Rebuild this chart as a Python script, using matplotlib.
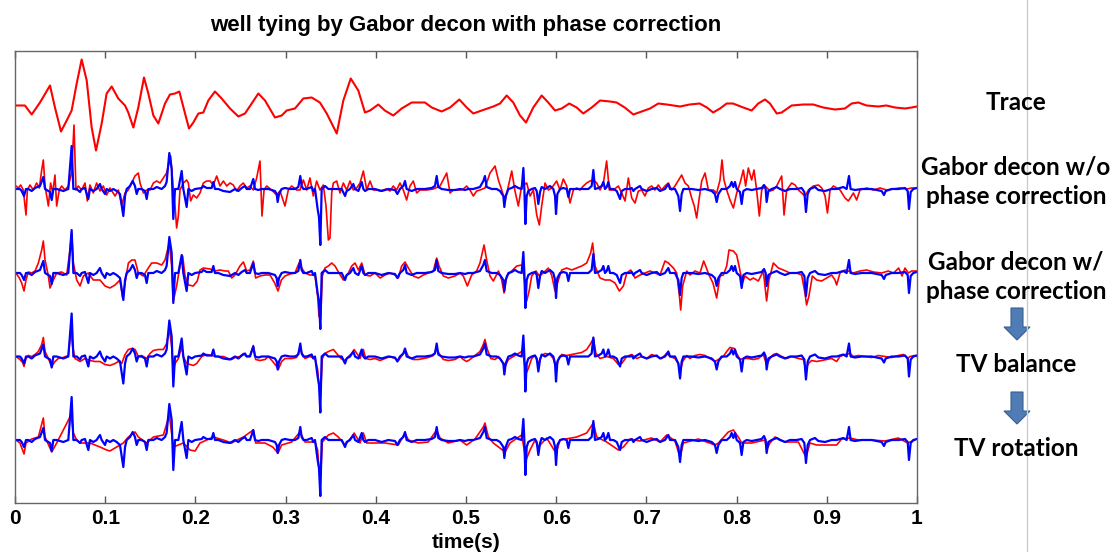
import numpy as np
import matplotlib
matplotlib.use("Agg")
from matplotlib import pyplot as plt
from matplotlib.patches import Polygon
from matplotlib.lines import Line2D

# ---- data: (time in s, amplitude) ----
trace = [(0.000, 0), (0.011, 0), (0.0185, -9), (0.0277, 3), (0.0388, 20), (0.0443, -2), (0.051, -26),
         (0.0573, -15), (0.0628, -5), (0.0684, 22), (0.0739, 46), (0.0795, 25), (0.085, -22), (0.0898, -45),
         (0.0961, -18), (0.1016, 12), (0.1072, 19), (0.1145, 7), (0.122, 0), (0.1256, -7), (0.1312, -22),
         (0.1367, -2), (0.143, 28), (0.1478, 12), (0.1534, -10), (0.1589, -18), (0.1663, 2), (0.1718, 11),
         (0.1774, 12), (0.1822, 14), (0.1885, -8), (0.1929, -23), (0.1977, -17), (0.2033, -8), (0.2088, -7),
         (0.2143, 5), (0.2217, 14), (0.2291, 7), (0.2384, -3), (0.2476, -11), (0.255, -8), (0.2624, 2),
         (0.2698, 12), (0.2772, 5), (0.2882, -12), (0.2957, -10), (0.3012, -5), (0.3104, -3), (0.3196, 7),
         (0.3289, 8), (0.338, 3), (0.3456, -8), (0.3567, -28), (0.364, 5), (0.3722, 27), (0.3806, 15),
         (0.388, -7), (0.3936, -5), (0.4028, 1), (0.410, -5), (0.4194, -10), (0.4287, -3), (0.4398, 3),
         (0.4545, 3), (0.462, -2), (0.473, -6), (0.4823, -2), (0.4926, 6), (0.5008, -2), (0.5081, -8),
         (0.5174, -5), (0.5303, -1), (0.5377, 2), (0.5451, 10), (0.5524, 3), (0.5599, -10), (0.5665, -17),
         (0.5746, -2), (0.5839, 10), (0.5912, 3), (0.5987, -5), (0.6061, -3), (0.6145, 2), (0.6227, -2),
         (0.63, -8), (0.6394, -2), (0.6486, 5), (0.6596, 4), (0.667, 3), (0.676, -2), (0.6855, -9),
         (0.6948, -6), (0.704, -3), (0.7132, 2), (0.7225, 1), (0.7373, -1), (0.748, 1), (0.759, 2),
         (0.767, -2), (0.774, -7), (0.7816, -3), (0.789, 2), (0.796, 2), (0.8074, -2), (0.8167, -5),
         (0.824, 2), (0.8315, 6), (0.837, 2), (0.8445, -8), (0.85, -7), (0.861, 0), (0.874, 1), (0.885, 1),
         (0.896, -2), (0.909, -4), (0.92, -3), (0.9276, 2), (0.935, 3), (0.944, 0), (0.957, -1), (0.966, 0),
         (0.9756, -2), (0.9867, -3), (0.994, -2), (1.0, -1)]

well_refl = [(0.0011, 0), (0.0055, 0), (0.0074, -2), (0.010, -7), (0.0122, 0), (0.0148, 0), (0.0185, -2),
             (0.0222, 1), (0.0277, 3), (0.0314, 12), (0.0333, 0), (0.0388, -3), (0.0407, -11), (0.0425, 0),
             (0.0462, 0), (0.0536, -2), (0.0591, 0), (0.0628, 43), (0.0647, 0), (0.0684, 0), (0.0721, -3),
             (0.0739, 0), (0.0776, 1), (0.0813, -10), (0.0831, 0), (0.0868, -2), (0.0905, 0), (0.0942, 5),
             (0.0961, 0), (0.0998, -5), (0.1016, 0), (0.1053, -2), (0.109, 0), (0.1127, -2), (0.1164, -5),
             (0.1201, -27), (0.122, -7), (0.1238, 0), (0.1275, 3), (0.1305, 8), (0.133, 3), (0.1349, -5),
             (0.1367, 0), (0.1404, 0), (0.1441, -2), (0.146, -10), (0.1478, 0), (0.1534, 0), (0.1571, 2),
             (0.1626, 0), (0.1663, 3), (0.1681, 7), (0.1711, 36), (0.1737, 20), (0.1755, -30), (0.1774, 0),
             (0.1811, 0), (0.1848, 18), (0.1866, 0), (0.1903, -18), (0.1922, 0), (0.1959, -2), (0.1996, 0),
             (0.207, 1), (0.2088, 3), (0.2125, 1), (0.218, 1), (0.2199, 7), (0.2217, 0), (0.2254, 0),
             (0.231, -2), (0.2384, -3), (0.2439, 0), (0.2476, -2), (0.2513, 1), (0.255, 3), (0.2568, 0),
             (0.2605, 0), (0.2642, 10), (0.2661, 0), (0.2698, -1), (0.2735, 0), (0.2809, 0), (0.2882, -2),
             (0.2901, -5), (0.2912, -13), (0.2927, -5), (0.2956, 0), (0.2993, 1), (0.3049, 0), (0.3104, 0),
             (0.3141, 2), (0.3163, 13), (0.3178, 3), (0.3197, 0), (0.3234, 0), (0.3289, 2), (0.3307, -2),
             (0.3326, 0), (0.3355, -20), (0.337, -28), (0.3385, -56), (0.34, 0), (0.3437, 3), (0.3474, 0),
             (0.3548, 0), (0.3622, 0), (0.3659, -7), (0.3677, -2), (0.3714, 0), (0.3751, 5), (0.377, 0),
             (0.3807, -2), (0.3844, 7), (0.3862, 0), (0.3881, -2), (0.3917, 0), (0.3991, 0), (0.4065, -2),
             (0.4139, 0), (0.4213, -1), (0.4239, -5), (0.4268, 0), (0.4305, 3), (0.4324, 8), (0.4342, 0),
             (0.4398, -2), (0.4453, 0), (0.4545, 0), (0.4619, 1), (0.4656, 3), (0.4675, 13), (0.4693, 2),
             (0.473, 0), (0.4804, -1), (0.4878, -1), (0.4933, 0), (0.4989, -1), (0.5026, 0), (0.5081, 0),
             (0.5155, 2), (0.5192, 8), (0.521, 13), (0.5229, 2), (0.5285, 0), (0.534, 0), (0.5377, -2),
             (0.5414, -7), (0.5425, -18), (0.544, -7), (0.547, 0), (0.5506, 1), (0.5543, 3), (0.558, 1),
             (0.5617, 0), (0.5636, 21), (0.5647, 0), (0.5658, -35), (0.5673, -7), (0.5691, -2), (0.5728, 0),
             (0.5765, 1), (0.5784, -2), (0.5802, -15), (0.5821, -3), (0.5839, 2), (0.5876, 0), (0.5931, 3),
             (0.5968, 0), (0.5987, -7), (0.5998, -25), (0.6013, -5), (0.6043, 0), (0.6079, 1), (0.6116, 0),
             (0.6135, -8), (0.6153, 0), (0.619, 0), (0.6246, 0), (0.6301, 0), (0.6357, 0), (0.6393, 3),
             (0.6412, 19), (0.643, 0), (0.6467, 1), (0.6504, 3), (0.6523, 7), (0.6541, 0), (0.656, 2),
             (0.6578, 7), (0.6597, 0), (0.6634, 0), (0.6671, -2), (0.6708, -10), (0.6726, -2), (0.6763, 0),
             (0.6818, 0), (0.6837, 1), (0.6856, -2), (0.6874, 0), (0.6929, 3), (0.6948, 0), (0.7003, -2),
             (0.7058, 0), (0.7114, 1), (0.7151, -2), (0.7206, 0), (0.7243, 5), (0.7262, 0), (0.7317, 0),
             (0.7354, -7), (0.7373, -22), (0.7391, -5), (0.741, 0), (0.7502, 0), (0.7576, -1), (0.765, 0),
             (0.7724, -2), (0.776, -5), (0.7779, -13), (0.7798, -5), (0.7834, 0), (0.789, 0), (0.7927, 3),
             (0.7945, 7), (0.7964, 2), (0.7982, 7), (0.8001, 0), (0.8038, -3), (0.8056, -15), (0.8075, -2),
             (0.8112, 0), (0.8167, -1), (0.8222, 0), (0.8278, 1), (0.8304, 4), (0.8322, 0), (0.8333, -13),
             (0.8352, -2), (0.8389, 0), (0.8444, 2), (0.8481, 0), (0.8537, -2), (0.8592, 0), (0.8666, 0),
             (0.8721, 1), (0.8751, -3), (0.8769, -23), (0.8788, -5), (0.8814, 0), (0.8869, 2), (0.8906, -1),
             (0.898, -2), (0.9054, 0), (0.9109, 0), (0.9146, 1), (0.9183, 2), (0.922, 0), (0.9246, 13),
             (0.9264, 0), (0.9313, -1), (0.9387, 0), (0.9497, 0), (0.9553, -1), (0.9608, -2), (0.9634, -6),
             (0.9653, -2), (0.9719, 0), (0.9793, 0), (0.9867, 1), (0.9897, -2), (0.9911, -20), (0.993, -3),
             (0.9959, 0), (0.9997, 1)]

gabor_no_phase = [(0.0011, 3), (0.0037, 1), (0.0063, 4), (0.0092, -1), (0.0122, -26), (0.0137, -1),
                  (0.0166, 4), (0.0203, -1), (0.024, 6), (0.027, 1), (0.0296, 19), (0.0314, 29), (0.0333, 3),
                  (0.037, -17), (0.0395, 6), (0.0418, -4), (0.0443, 14), (0.0462, -17), (0.0491, -1),
                  (0.0517, 3), (0.0554, -1), (0.0591, 3), (0.0628, 16), (0.0654, 64), (0.0676, -1),
                  (0.0702, 3), (0.0739, -1), (0.0776, 6), (0.0802, -12), (0.0831, 4), (0.0868, -4),
                  (0.0905, 6), (0.0942, -2), (0.0979, 3), (0.1016, -6), (0.1053, 1), (0.1109, -7),
                  (0.1146, -1), (0.1183, -16), (0.122, -4), (0.1256, -1), (0.1293, 6), (0.133, 13),
                  (0.1367, 16), (0.1386, 6), (0.1423, -4), (0.146, -1), (0.1497, -1), (0.1534, 6),
                  (0.1571, 8), (0.1608, 6), (0.1645, 11), (0.1681, 16), (0.17, 23), (0.1726, 33),
                  (0.1755, -1), (0.1774, -17), (0.1792, -39), (0.1811, -27), (0.1829, -1), (0.1866, 6),
                  (0.1903, 9), (0.1922, 6), (0.1947, -12), (0.1977, -6), (0.2014, -9), (0.2051, -4),
                  (0.2088, 6), (0.2125, 8), (0.2162, 8), (0.2199, 4), (0.2236, 13), (0.2273, 3), (0.231, 8),
                  (0.2347, 3), (0.2384, 6), (0.242, 4), (0.2457, -2), (0.2494, 3), (0.2531, 6), (0.2568, 1),
                  (0.2605, 3), (0.2642, -1), (0.2679, 11), (0.2716, 28), (0.2738, -27), (0.2761, -1),
                  (0.279, 3), (0.2845, -1), (0.2901, -6), (0.2938, -2), (0.2993, -17), (0.303, -1),
                  (0.3067, 3), (0.3123, -1), (0.316, -1), (0.3197, 9), (0.3234, -1), (0.327, 11),
                  (0.3307, -7), (0.3344, 8), (0.3381, -1), (0.3418, 4), (0.3448, -17), (0.3474, -51),
                  (0.3492, -49), (0.3511, -4), (0.3529, 6), (0.3566, 8), (0.3603, -4), (0.364, 6),
                  (0.3677, -1), (0.3714, 8), (0.3751, -1), (0.3788, 1), (0.3825, 6), (0.3862, 18),
                  (0.3899, -1), (0.3936, 8), (0.3973, -1), (0.401, -1), (0.4047, -2), (0.4084, -1),
                  (0.412, 0), (0.4157, -2), (0.4194, 3), (0.4231, -1), (0.4268, 6), (0.4305, -1),
                  (0.4342, -11), (0.4379, 3), (0.4416, 8), (0.4453, -4), (0.449, -1), (0.4564, -1),
                  (0.4638, 0), (0.4712, 3), (0.4786, 16), (0.4823, -4), (0.486, -1), (0.4897, -1),
                  (0.4934, -1), (0.4971, 0), (0.5007, 3), (0.5044, -1), (0.5081, -7), (0.5118, -2),
                  (0.5155, -1), (0.5211, 1), (0.5266, 16), (0.5322, 23), (0.5359, 9), (0.5396, -1),
                  (0.5433, -12), (0.547, 3), (0.5507, 18), (0.5543, -2), (0.558, -17), (0.5617, 3),
                  (0.5673, 6), (0.571, -7), (0.5747, -1), (0.5784, -26), (0.5813, -36), (0.5839, -17),
                  (0.5876, 6), (0.5913, -1), (0.595, 1), (0.6005, 8), (0.6042, -1), (0.6079, 10),
                  (0.6116, 3), (0.6153, -14), (0.619, -1), (0.6227, 1), (0.6264, -1), (0.6301, 3),
                  (0.6338, 6), (0.6375, 8), (0.6412, 9), (0.6449, 6), (0.6486, -1), (0.6523, 6),
                  (0.6559, 28), (0.6589, -1), (0.6634, -1), (0.6689, 3), (0.6726, -4), (0.6763, -12),
                  (0.68, 11), (0.6837, -9), (0.6874, -14), (0.6911, -2), (0.6948, -1), (0.6984, -7),
                  (0.7021, 1), (0.7058, 3), (0.7095, -1), (0.7132, 4), (0.7169, -1), (0.7206, 3),
                  (0.7243, 6), (0.728, -1), (0.7317, 3), (0.7391, 14), (0.7428, 6), (0.7465, 3),
                  (0.7502, -9), (0.7531, -17), (0.7557, -29), (0.7583, -11), (0.7613, 8), (0.765, 16),
                  (0.7687, -1), (0.7742, -1), (0.7779, -4), (0.7816, 9), (0.7838, 29), (0.786, 9),
                  (0.789, -1), (0.7927, -11), (0.7964, -19), (0.8001, -4), (0.8038, 6), (0.8075, 19),
                  (0.81, 3), (0.813, 21), (0.8167, 9), (0.8193, 19), (0.8222, -1), (0.8252, -27),
                  (0.8278, -1), (0.8315, 3), (0.837, -2), (0.8407, -1), (0.8444, 3), (0.85, 13),
                  (0.8526, -26), (0.8555, -1), (0.8611, 6), (0.8648, 4), (0.8685, -1), (0.8722, -4),
                  (0.8759, -7), (0.8796, -1), (0.8851, 3), (0.8907, 4), (0.8944, 1), (0.8981, -7),
                  (0.9007, -24), (0.9036, -1), (0.9073, 3), (0.9147, -1), (0.9202, -9), (0.9239, -12),
                  (0.9295, -4), (0.9331, -11), (0.9368, -1), (0.9442, 1), (0.9516, -1), (0.959, 1),
                  (0.9664, -1), (0.9738, 0), (0.9812, 1), (0.9886, 0), (0.9941, 1), (0.9996, 1)]

gabor_phase = [(0.0011, 0), (0.0048, -5), (0.0074, -10), (0.01, -18), (0.0122, -7), (0.0148, 1), (0.0185, 0),
               (0.0222, 2), (0.0259, 10), (0.0296, 23), (0.0314, 32), (0.0333, 13), (0.037, -3), (0.0388, -15),
               (0.0425, -7), (0.0462, 0), (0.0517, 1), (0.0573, -2), (0.061, 23), (0.0628, 40), (0.0647, 10),
               (0.0684, -7), (0.0721, -13), (0.0758, -3), (0.0813, 0), (0.0868, -7), (0.0942, -7),
               (0.0998, -13), (0.1053, -15), (0.1109, -12), (0.1164, -7), (0.1194, -25), (0.122, -10),
               (0.1257, 10), (0.1294, 13), (0.133, 13), (0.1367, 0), (0.1423, -3), (0.1478, 5), (0.1515, 10),
               (0.1571, 10), (0.1626, 8), (0.1663, 13), (0.1711, 30), (0.1737, 7), (0.1755, -28),
               (0.1792, -13), (0.1829, 7), (0.1859, 17), (0.1885, -3), (0.1922, -12), (0.1977, -13),
               (0.2021, -8), (0.2051, 3), (0.2088, 5), (0.2162, 4), (0.2217, 2), (0.2273, 3), (0.2328, 2),
               (0.2365, 2), (0.2402, -5), (0.2439, -2), (0.2494, 7), (0.2532, 11), (0.2568, 2), (0.2605, 3),
               (0.2642, 12), (0.2668, -5), (0.2716, -3), (0.2772, -2), (0.2827, -2), (0.2879, -10),
               (0.2916, -18), (0.2953, -7), (0.2993, -3), (0.3049, -1), (0.3104, 0), (0.3149, 10),
               (0.3178, 5), (0.3215, 0), (0.327, -2), (0.3326, -2), (0.3355, -23), (0.337, -43),
               (0.3388, -47), (0.3407, -3), (0.3437, 5), (0.3474, 7), (0.3511, 10), (0.3548, 7), (0.3592, 0),
               (0.364, -7), (0.3696, 0), (0.3733, 7), (0.377, 10), (0.3807, 3), (0.3844, 10), (0.3881, -2),
               (0.3936, -3), (0.3991, 0), (0.4047, -5), (0.4102, -2), (0.4157, 0), (0.4213, -2), (0.425, -5),
               (0.4287, 7), (0.4324, 11), (0.4361, 5), (0.4416, -3), (0.4472, -5), (0.4527, -2), (0.4582, 0),
               (0.4638, 2), (0.4675, 15), (0.4701, 7), (0.4749, -3), (0.4804, -5), (0.4878, -3), (0.4933, 0),
               (0.497, -3), (0.5015, -13), (0.5063, -2), (0.5118, 2), (0.5155, 10), (0.52, 28), (0.5229, 13),
               (0.5266, -3), (0.5303, -8), (0.536, 2), (0.5396, -7), (0.5422, -20), (0.5451, -3), (0.5506, 2),
               (0.5562, 7), (0.5617, 8), (0.5643, -3), (0.5673, -28), (0.5702, -17), (0.5728, -3),
               (0.5776, 2), (0.5813, -3), (0.5857, 0), (0.5913, 5), (0.5949, -2), (0.5987, -18),
               (0.6024, -7), (0.6061, 3), (0.6116, 5), (0.6172, 3), (0.6227, 5), (0.6283, 7), (0.6338, 10),
               (0.6382, 20), (0.6404, 30), (0.643, 7), (0.6486, -5), (0.6541, -7), (0.6597, -7),
               (0.6652, -10), (0.67, -18), (0.6745, -13), (0.6782, 0), (0.6826, 3), (0.6874, -5),
               (0.6929, -2), (0.6985, 0), (0.704, 2), (0.7096, 0), (0.7151, -2), (0.7206, 12), (0.7243, 10),
               (0.7299, 5), (0.7336, 0), (0.7365, -22), (0.738, -37), (0.7402, -13), (0.7447, 2),
               (0.7483, -2), (0.7539, 2), (0.7594, 0), (0.7635, 12), (0.7657, 7), (0.7694, -2),
               (0.7738, -10), (0.7779, -25), (0.7816, -3), (0.7853, -2), (0.789, 7), (0.7916, 23),
               (0.7964, 22), (0.8001, 18), (0.8027, 7), (0.8064, -10), (0.8093, -3), (0.8149, -7),
               (0.8185, -5), (0.8241, -8), (0.8296, 2), (0.8333, -28), (0.8359, -7), (0.8407, 10),
               (0.8463, 5), (0.8518, 3), (0.8592, 0), (0.8666, 0), (0.8721, -2), (0.8758, -20),
               (0.8776, -32), (0.8802, -23), (0.884, -3), (0.8888, -7), (0.8943, -8), (0.8999, -5),
               (0.9054, -2), (0.9091, -7), (0.9109, -12), (0.9146, 0), (0.9202, 3), (0.9239, 2), (0.9294, 0),
               (0.9368, 2), (0.9442, 3), (0.9516, 1), (0.9608, 0), (0.9682, 2), (0.9741, 0), (0.9797, 5),
               (0.9834, -3), (0.9867, 5), (0.9904, 0), (0.9941, 2), (0.9997, 2)]

tv_balance = [(0.0011, 0), (0.0055, -3), (0.0085, -6), (0.01, -10), (0.0122, -2), (0.0148, 1), (0.0185, 0),
              (0.0222, 2), (0.0259, 5), (0.0296, 12), (0.0314, 19), (0.0333, 5), (0.037, -2), (0.0407, -10),
              (0.0443, -5), (0.048, -2), (0.0536, -1), (0.0591, 1), (0.0621, 27), (0.0639, 10), (0.0665, -2),
              (0.0721, -5), (0.0776, -2), (0.0831, -4), (0.0887, -5), (0.0942, -5), (0.0998, -8),
              (0.1053, -9), (0.1109, -7), (0.1146, -5), (0.1183, -7), (0.122, 2), (0.1257, 7), (0.1294, 8),
              (0.1331, 7), (0.1367, 0), (0.1404, 1), (0.146, -2), (0.1497, 3), (0.1534, 6), (0.1589, 7),
              (0.1645, 7), (0.1681, 13), (0.1711, 27), (0.1737, 10), (0.1755, -13), (0.1774, -7),
              (0.1811, -2), (0.1848, 10), (0.1866, 0), (0.1903, -7), (0.194, -8), (0.1977, -9), (0.2014, -7),
              (0.207, 0), (0.2125, 2), (0.218, 1), (0.2236, 0), (0.231, 0), (0.2365, -2), (0.2402, -3),
              (0.2439, -1), (0.2494, 0), (0.2532, 3), (0.2568, 0), (0.2605, 1), (0.2642, 11), (0.2668, -3),
              (0.2716, -4), (0.2772, -3), (0.2809, 0), (0.2857, -5), (0.2901, -10), (0.2919, -13),
              (0.2956, -5), (0.2993, -2), (0.3067, -2), (0.3122, -1), (0.3159, 8), (0.3185, 3), (0.3215, -2),
              (0.327, 0), (0.3326, -2), (0.3355, -13), (0.337, -30), (0.3392, -30), (0.3407, -2),
              (0.3437, 3), (0.3474, 5), (0.353, 7), (0.3566, 3), (0.3614, -2), (0.3659, -4), (0.3696, 0),
              (0.3733, 3), (0.376, 7), (0.379, 3), (0.3825, -2), (0.3862, 7), (0.3888, -2), (0.3936, -3),
              (0.3991, -2), (0.4047, -4), (0.4102, -2), (0.4157, 0), (0.4213, -2), (0.425, -4), (0.4305, 3),
              (0.4331, 6), (0.4361, 0), (0.4416, -3), (0.4472, -3), (0.4527, -2), (0.4582, -1), (0.4638, 1),
              (0.4675, 8), (0.4701, 3), (0.4749, -3), (0.4804, -4), (0.4878, -3), (0.4933, 0), (0.497, -3),
              (0.5007, -5), (0.5044, -3), (0.51, 1), (0.5155, 5), (0.5192, 12), (0.521, 17), (0.5237, 7),
              (0.5274, -2), (0.5322, -3), (0.536, 0), (0.5396, -5), (0.5433, -10), (0.547, -3), (0.5525, 0),
              (0.558, 3), (0.5617, 5), (0.5636, 0), (0.5665, -17), (0.5691, -12), (0.5728, -2), (0.5765, 1),
              (0.5802, -7), (0.5839, 1), (0.5876, 3), (0.5931, 2), (0.5968, -2), (0.5998, -13), (0.6024, -3),
              (0.6061, 2), (0.6116, 1), (0.6172, 2), (0.6227, 3), (0.6283, 4), (0.6338, 7), (0.6382, 13),
              (0.6412, 18), (0.6441, 3), (0.6486, -2), (0.656, 0), (0.6634, -2), (0.6689, -8), (0.6726, -7),
              (0.6782, 0), (0.6837, 2), (0.6892, -2), (0.6948, 0), (0.7003, -2), (0.7058, 2), (0.7114, 0),
              (0.7169, -2), (0.7225, 3), (0.7262, 0), (0.7317, -2), (0.7354, -7), (0.7373, -15),
              (0.7402, -5), (0.7447, 1), (0.7483, -2), (0.7539, 1), (0.7594, 2), (0.765, 1), (0.7705, -2),
              (0.776, -5), (0.7798, -3), (0.7853, 0), (0.789, 5), (0.7927, 9), (0.7975, 8), (0.8001, 3),
              (0.8038, -3), (0.8075, -2), (0.813, -2), (0.8185, -3), (0.8241, -2), (0.8296, 2), (0.8333, -8),
              (0.837, -2), (0.8407, 2), (0.8444, 3), (0.85, 0), (0.8555, -2), (0.8611, 0), (0.8684, -2),
              (0.874, -3), (0.8769, -13), (0.8795, -7), (0.8832, -4), (0.8888, -5), (0.8943, -4),
              (0.8999, -3), (0.9054, -2), (0.9109, -5), (0.9146, 0), (0.9202, 2), (0.9257, 3), (0.9294, 0),
              (0.935, 1), (0.9424, 0), (0.9497, -1), (0.9571, 1), (0.9645, 0), (0.9719, -1), (0.9793, 1),
              (0.9849, 2), (0.9897, -2), (0.9922, 0), (0.9978, 1), (1.0, 0)]

tv_rotation = [(0.0011, 0), (0.0055, -3), (0.01, -14), (0.0122, -3), (0.0185, 1), (0.0259, 3), (0.0314, 22),
               (0.0333, 3), (0.0407, -12), (0.0462, -3), (0.0621, 25), (0.0647, 7), (0.0684, 0), (0.0721, -3),
               (0.0831, -3), (0.0942, -7), (0.1016, -10), (0.1053, -11), (0.1127, -7), (0.1201, -3),
               (0.1257, 3), (0.1331, 8), (0.1367, 3), (0.146, -3), (0.1534, 3), (0.1645, 5), (0.1711, 25),
               (0.1755, -7), (0.1866, -3), (0.194, -10), (0.1996, -11), (0.2051, -3), (0.2199, 3),
               (0.231, 0), (0.2402, -3), (0.2439, -1), (0.2532, 3), (0.2642, 10), (0.2668, -3), (0.2772, -3),
               (0.2857, -7), (0.2916, -13), (0.2956, -5), (0.3067, -2), (0.3159, 8), (0.3215, -2),
               (0.3326, -2), (0.3355, -10), (0.337, -30), (0.3392, -29), (0.3407, -2), (0.3474, 5),
               (0.353, 7), (0.3584, 3), (0.3659, -5), (0.3733, 3), (0.376, 7), (0.3825, -3), (0.3862, 7),
               (0.3899, -3), (0.3991, -3), (0.4102, -3), (0.425, -5), (0.4324, 7), (0.4361, 0), (0.4472, -3),
               (0.4582, -2), (0.4675, 10), (0.4712, 2), (0.4804, -3), (0.4933, 0), (0.5007, -5), (0.51, 1),
               (0.5192, 13), (0.521, 17), (0.5248, 3), (0.5303, -3), (0.5433, -12), (0.5488, -3),
               (0.5617, 5), (0.5665, -20), (0.571, -10), (0.5765, 0), (0.5802, -7), (0.5894, 2),
               (0.5998, -13), (0.6043, 0), (0.6227, 3), (0.6338, 7), (0.6412, 17), (0.6449, 3), (0.656, -2),
               (0.6689, -10), (0.6745, -7), (0.6818, 1), (0.6929, -1), (0.7058, 2), (0.7151, -2),
               (0.7225, 5), (0.7317, -1), (0.7373, -17), (0.741, -3), (0.7576, 1), (0.776, -5), (0.7798, -3),
               (0.7908, 8), (0.7964, 10), (0.8019, 3), (0.8056, -3), (0.8167, -3), (0.8315, 0), (0.8333, -10),
               (0.837, -3), (0.8426, 3), (0.8537, -2), (0.8684, -2), (0.8769, -17), (0.8814, -3),
               (0.8888, -5), (0.898, -5), (0.9109, -5), (0.9165, 1), (0.9257, 2), (0.935, 0), (0.9497, 0),
               (0.9645, -1), (0.9793, 2), (0.9897, -3), (0.9978, 0)]

row_names = ["Trace", "Gabor decon w/o\nphase correction", "Gabor decon w/\nphase correction",
             "TV balance", "TV rotation"]
xtick_vals = [0, 0.1, 0.2, 0.3, 0.4, 0.5, 0.6, 0.7, 0.8, 0.9, 1]
xtick_labels = ["0", "0.1", "0.2", "0.3", "0.4", "0.5", "0.6", "0.7", "0.8", "0.9", "1"]

# ---- layout ----
W, H = 1112, 552
plt.rcParams["font.family"] = ["Liberation Sans", "DejaVu Sans"]
fig = plt.figure(figsize=(W / 100, H / 100), dpi=100)
ax = fig.add_axes([15 / W, 1 - 503 / H, (917 - 15) / W, (503 - 51) / H])

# baselines of the five rows (axis runs top-down like the picture)
baselines = [105.5, 189, 273, 356.5, 440]


def draw(series, base, color, lw):
    t, a = np.array(series, dtype=float).T
    ax.plot(t, base - a, color=color, lw=lw, solid_joinstyle="round")


draw(trace, baselines[0], "#ff0000", 1.5)
for base, red in zip(baselines[1:], [gabor_no_phase, gabor_phase, tv_balance, tv_rotation]):
    draw(red, base, "#ff0000", 1.2)
    draw(well_refl, base, "#0000ff", 1.6)

ax.set_xlim(0, 1)
ax.set_ylim(503, 51)
ax.set_yticks([])
ax.set_xticks(xtick_vals)
ax.set_xticklabels(xtick_labels, fontsize=15, fontweight="bold")
ax.tick_params(axis="x", direction="in", top=True, length=5, width=1, color="#555555", pad=4)
for s in ax.spines.values():
    s.set_color("#666666")
    s.set_linewidth(1)

fig.text(466 / W, 1 - 26 / H, "well tying by Gabor decon with phase correction",
         ha="center", va="center", fontsize=16, fontweight="bold")
fig.text(466 / W, 1 - 542 / H, "time(s)", ha="center", va="center", fontsize=15, fontweight="bold")

# labels on the right
label_y = [103, 182, 277, 365, 448]
for name, y in zip(row_names, label_y):
    fig.text(1016 / W, 1 - y / H, name, ha="center", va="center", fontsize=17.5,
             fontweight="bold", family=["Lato", "DejaVu Sans"], linespacing=1.32)

# down arrows between the steps
for top in [308, 392]:
    pts = [(1011, top), (1023, top), (1023, top + 19), (1030, top + 19), (1017, top + 32),
           (1004, top + 19), (1011, top + 19)]
    fig.add_artist(Polygon([(x / W, 1 - y / H) for x, y in pts], closed=True,
                           transform=fig.transFigure, facecolor="#4f7cb5", edgecolor="#3a5f8f", lw=0.8))

fig.add_artist(Line2D([1027 / W, 1027 / W], [0, 1], color="#cccccc", lw=1))

fig.savefig("out.png", dpi=100)
